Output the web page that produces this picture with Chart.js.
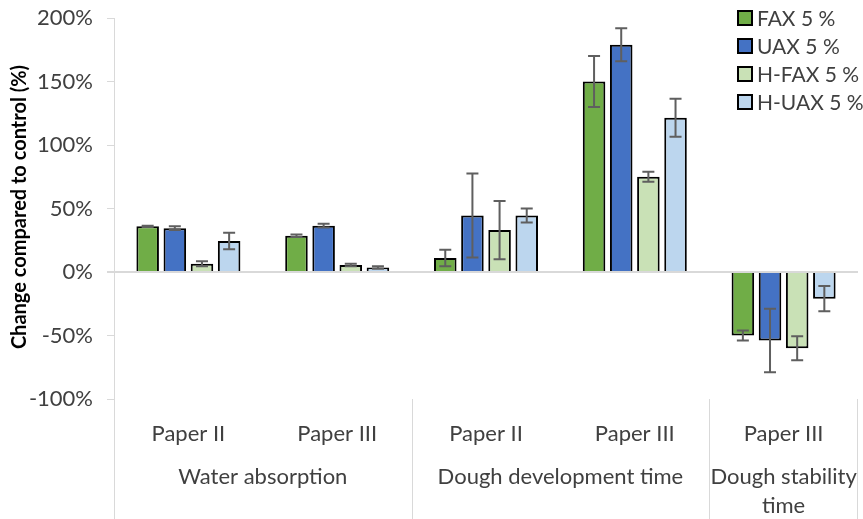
<!DOCTYPE html>
<html>
<head>
<meta charset="utf-8">
<script src="https://cdn.jsdelivr.net/npm/chart.js@4"></script>
<style>
  html, body { margin: 0; padding: 0; background: #fff; }
  canvas { display: block; }
</style>
</head>
<body>
<canvas id="chart" width="863" height="519"></canvas>
<script>
// Inner category labels (one per bar cluster)
const categories = ['Paper II', 'Paper III', 'Paper II', 'Paper III', 'Paper III'];
// Outer group labels and how many clusters each group spans
const groupLabels = [['Water absorption'], ['Dough development time'], ['Dough stability', 'time']];
const groupSpans = [2, 2, 1];

// Change compared to control, in percent
const faxValues   = [36, 28.5, 11, 150, -50];
const uaxValues   = [34.5, 36.5, 44.5, 179, -54];
const hfaxValues  = [6.5, 5.5, 33, 75, -60];
const huaxValues  = [24.5, 3.5, 44.5, 121.5, -21];

// Error bar half-lengths, in percent
const faxErrors   = [0.5, 1, 6.5, 20, 4];
const uaxErrors   = [1.5, 1.5, 33, 13, 25];
const hfaxErrors  = [2, 1, 23, 4, 9.5];
const huaxErrors  = [6.5, 1, 5.5, 15, 10];

const seriesNames = ['FAX 5 %', 'UAX 5 %', 'H-FAX 5 %', 'H-UAX 5 %'];
const yTicks = [-100, -50, 0, 50, 100, 150, 200];

const FONT = 'Lato, "Open Sans", sans-serif';
const TEXT = '#404040';
const AXIS = '#d9d9d9';

const datasets = [
  { label: seriesNames[0], data: faxValues,  errors: faxErrors,  backgroundColor: '#70ad47' },
  { label: seriesNames[1], data: uaxValues,  errors: uaxErrors,  backgroundColor: '#4472c4' },
  { label: seriesNames[2], data: hfaxValues, errors: hfaxErrors, backgroundColor: '#c9e1b6' },
  { label: seriesNames[3], data: huaxValues, errors: huaxErrors, backgroundColor: '#bcd6ee' }
].map(d => Object.assign(d, {
  borderColor: '#000',
  borderWidth: 2,
  categoryPercentage: 0.73,
  barPercentage: 0.83
}));

// Error bars drawn on top of each bar
const errorBars = {
  id: 'errorBars',
  afterDatasetsDraw(chart) {
    const ctx = chart.ctx;
    const y = chart.scales.y;
    ctx.save();
    ctx.strokeStyle = '#5f5f5f';
    ctx.lineWidth = 2;
    chart.data.datasets.forEach((ds, i) => {
      const meta = chart.getDatasetMeta(i);
      meta.data.forEach((bar, j) => {
        const v = ds.data[j], e = ds.errors[j];
        const y1 = y.getPixelForValue(v + e);
        const y2 = y.getPixelForValue(v - e);
        const x = bar.x, cap = 6;
        ctx.beginPath();
        ctx.moveTo(x, y1); ctx.lineTo(x, y2);
        ctx.moveTo(x - cap, y1); ctx.lineTo(x + cap, y1);
        ctx.moveTo(x - cap, y2); ctx.lineTo(x + cap, y2);
        ctx.stroke();
      });
    });
    ctx.restore();
  }
};

// Multi-level category axis: group labels and separators below the plot
const groupAxis = {
  id: 'groupAxis',
  afterDraw(chart) {
    const ctx = chart.ctx;
    const x = chart.scales.x;
    const area = chart.chartArea;
    const bottom = chart.height;
    const half = (x.getPixelForValue(1) - x.getPixelForValue(0)) / 2;
    ctx.save();
    ctx.strokeStyle = AXIS;
    ctx.lineWidth = 1;
    ctx.fillStyle = TEXT;
    ctx.font = '22px ' + FONT;
    ctx.textAlign = 'center';
    ctx.textBaseline = 'middle';
    let start = 0;
    const edges = [area.left];
    groupSpans.forEach((span, g) => {
      const end = start + span - 1;
      const cx = (x.getPixelForValue(start) + x.getPixelForValue(end)) / 2;
      groupLabels[g].forEach((line, k) => ctx.fillText(line, cx, area.bottom + 78 + k * 29));
      edges.push(x.getPixelForValue(end) + half);
      start = end + 1;
    });
    edges.forEach((ex, k) => {
      const px = Math.round(k === edges.length - 1 ? Math.min(ex, area.right) - 1 : ex) + 0.5;
      ctx.beginPath();
      ctx.moveTo(px, area.bottom);
      ctx.lineTo(px, bottom);
      ctx.stroke();
    });
    ctx.restore();
  }
};

// Axis title on the left
const yTitle = {
  id: 'yTitle',
  afterDraw(chart) {
    const ctx = chart.ctx;
    ctx.save();
    ctx.translate(20, 207);
    ctx.rotate(-Math.PI / 2);
    ctx.fillStyle = '#000';
    ctx.font = 'bold 20px ' + FONT;
    ctx.textAlign = 'center';
    ctx.textBaseline = 'middle';
    ctx.fillText('Change compared to control (%)', 0, 0);
    ctx.restore();
  }
};

// Legend inside the plot area, top right
const boxLegend = {
  id: 'boxLegend',
  afterDraw(chart) {
    const ctx = chart.ctx;
    const left = chart.chartArea.right - 120;
    ctx.save();
    ctx.font = '21px ' + FONT;
    ctx.textBaseline = 'middle';
    chart.data.datasets.forEach((ds, i) => {
      const cy = 18 + i * 28;
      ctx.fillStyle = ds.backgroundColor;
      ctx.fillRect(left, cy - 7, 14, 14);
      ctx.strokeStyle = '#000';
      ctx.lineWidth = 2;
      ctx.strokeRect(left, cy - 7, 14, 14);
      ctx.fillStyle = TEXT;
      ctx.fillText(ds.label, left + 19, cy + 1);
    });
    ctx.restore();
  }
};

new Chart(document.getElementById('chart'), {
  type: 'bar',
  data: { labels: categories, datasets },
  plugins: [errorBars, groupAxis, yTitle, boxLegend],
  options: {
    responsive: false,
    devicePixelRatio: 1,
    animation: false,
    layout: { padding: { top: 18, right: 5, left: 0, bottom: 0 } },
    plugins: { legend: { display: false }, tooltip: { enabled: false } },
    scales: {
      x: {
        grid: { display: false },
        border: { display: false },
        ticks: { color: TEXT, font: { family: FONT, size: 22 }, padding: 14, maxRotation: 0, autoSkip: false },
        afterFit(s) { s.height = 120; }
      },
      y: {
        min: -100, max: 200,
        afterBuildTicks(s) { s.ticks = yTicks.map(v => ({ value: v })); },
        ticks: {
          color: TEXT, font: { family: FONT, size: 22 }, padding: 14,
          callback: v => v + '%'
        },
        grid: {
          color: c => (c.tick && c.tick.value === 0 ? AXIS : 'rgba(0,0,0,0)'),
          lineWidth: c => (c.tick && c.tick.value === 0 ? 2 : 1),
          tickColor: AXIS,
          tickLength: 7,
          drawOnChartArea: true
        },
        border: { display: true, color: AXIS, width: 1 },
        afterFit(s) { s.width = 114; s.paddingTop = 0; s.paddingBottom = 0; }
      }
    }
  }
});
</script>
</body>
</html>
